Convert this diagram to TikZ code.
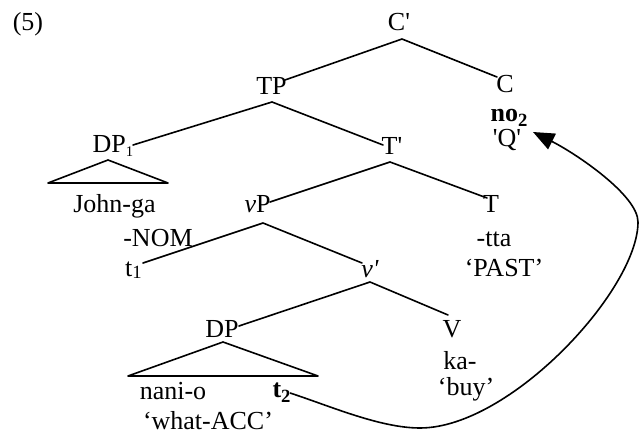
\documentclass[tikz,border=0pt]{standalone}
\usepackage{fontspec}
\setmainfont{Liberation Serif}
\usetikzlibrary{arrows.meta}
\newcommand{\mysub}[3]{\raisebox{-#2pt}{\fontsize{#1}{#1}\selectfont #3}}
\tikzset{
  lbl/.style={anchor=base, inner sep=0pt, font=\fontsize{19.5}{23}\selectfont},
  edge/.style={line width=1.2pt, line cap=round, line join=round},
  mvarrow/.style={line width=1.2pt, -{Triangle[length=16pt,width=13pt]}}
}
\begin{document}
\begin{tikzpicture}[x=0.75pt,y=-0.75pt]
\useasboundingbox (0,0) rectangle (639,434);
% labels
\node[lbl] (ex) at (28,31) {(5)};
\node[lbl] (Cp) at (399,31) {C\textquotesingle};
\node[lbl] (TP) at (271.5,94.5) {TP};
\node[lbl] (DP1) at (113,153) {DP\mysub{11}{3}{1}};
\node[lbl] (Tb) at (392,155) {T\textquotesingle};
\node[lbl] (C) at (505,93) {C};
\node[lbl] (no) at (509,122) {\bfseries no\mysub{14}{3.5}{2}};
\node[lbl] (Q) at (507,147) {\textquotesingle Q\textquotesingle};
\node[lbl] (John) at (114.5,213) {John-ga};
\node[lbl] (vP) at (257.5,213) {\textit{v}P};
\node[lbl] (T) at (491,213) {T};
\node[lbl] (NOM) at (158,247) {-NOM};
\node[lbl] (tta) at (494,247) {-tta};
\node[lbl] (t1) at (133.5,277) {t\mysub{14}{1.5}{1}};
\node[lbl] (PAST) at (504,277) {‘PAST’};
\node[lbl] (vb) at (370,278) {\textit{v\textquotesingle}};
\node[lbl] (DP) at (222,338) {DP};
\node[lbl] (V) at (452,338) {V};
\node[lbl] (ka) at (460,370) {ka-};
\node[lbl] (buy) at (466,396) {‘buy’};
\node[lbl] (nani) at (173,400) {nani-o};
\node[lbl] (t2) at (281.5,398) {\bfseries t\mysub{14}{3.5}{2}};
\node[lbl] (what) at (208,430) {‘what-ACC’};
% attachment points
\coordinate (Cpa) at (402,39);
\coordinate (TPr) at (285,80);
\coordinate (Ct) at (497,77);
\coordinate (TPa) at (272,102);
\coordinate (DP1r) at (133,145);
\coordinate (Tbl) at (383,145);
\coordinate (DP1a) at (108,160);
\coordinate (DP1bl) at (48,183);
\coordinate (DP1br) at (168,183);
\coordinate (Tba) at (390,162);
\coordinate (vPr) at (270,202);
\coordinate (Tt) at (487,198);
\coordinate (vPa) at (263,223);
\coordinate (t1r) at (143,263);
\coordinate (vbl) at (362,263);
\coordinate (vba) at (370,282);
\coordinate (DPr) at (239,326);
\coordinate (Vt) at (448,315);
\coordinate (DPa) at (223,342);
\coordinate (DPbl) at (128,376);
\coordinate (DPbr) at (318,376);
\coordinate (t2r) at (290,393);
\coordinate (low) at (420,428);
\coordinate (right) at (638,222);
\coordinate (tip) at (533,132);
% tree edges
\draw[edge] (TPr) -- (Cpa) -- (Ct);
\draw[edge] (DP1r) -- (TPa) -- (Tbl);
\draw[edge] (DP1a) -- (DP1bl) -- (DP1br) -- cycle;
\draw[edge] (vPr) -- (Tba) -- (Tt);
\draw[edge] (t1r) -- (vPa) -- (vbl);
\draw[edge] (DPr) -- (vba) -- (Vt);
\draw[edge] (DPa) -- (DPbl) -- (DPbr) -- cycle;
% movement arrow
\draw[mvarrow] (t2r) .. controls (330,406) and (380,428) .. (low)
  .. controls (510,428) and (638,290) .. (right)
  .. controls (638,195) and (575,153) .. (tip);
\end{tikzpicture}
\end{document}
